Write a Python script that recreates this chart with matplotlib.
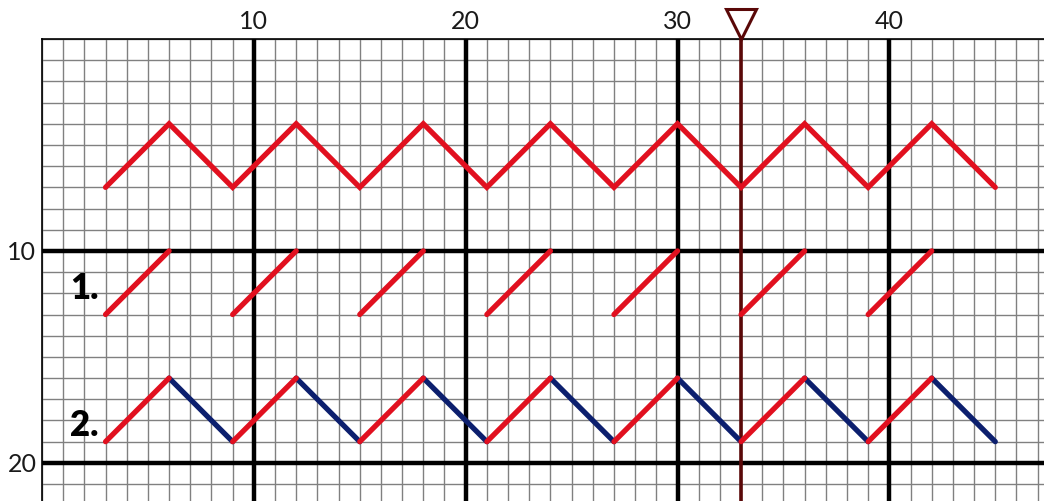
import matplotlib.pyplot as plt

# top zigzag (red)
zig_x = [3, 6, 9, 12, 15, 18, 21, 24, 27, 30, 33, 36, 39, 42, 45]
zig_y = [7, 4, 7, 4, 7, 4, 7, 4, 7, 4, 7, 4, 7, 4, 7]

# row 1: rising strokes only
r1_start_x = [3, 9, 15, 21, 27, 33, 39]
r1_end_x = [6, 12, 18, 24, 30, 36, 42]
r1_low, r1_high = 13, 10

# row 2: rising red, falling navy
r2_up_x = [3, 9, 15, 21, 27, 33, 39]
r2_peak_x = [6, 12, 18, 24, 30, 36, 42]
r2_down_x = [9, 15, 21, 27, 33, 39, 45]
r2_low, r2_high = 19, 16

marker_x = 33
major_ticks = [10, 20, 30, 40]

RED = '#e1101f'
NAVY = '#0c1f6e'
DARKRED = '#5a0808'

plt.rcParams['font.family'] = ['Lato', 'DejaVu Sans']

fig = plt.figure(figsize=(10.44, 5.01), dpi=100)
ax = fig.add_axes([42/1044, 0, 1 - 42/1044, 1 - 39/501])
ax.set_xlim(0, 47.3)
ax.set_ylim(21.8, 0)

# thin grid
for i in range(0, 48):
  ax.axvline(i, color='#808080', lw=1.0, zorder=1)
for j in range(0, 22):
  ax.axhline(j, color='#808080', lw=1.0, zorder=1)
# thick lines
for t in major_ticks:
  ax.axvline(t, color='black', lw=3.2, zorder=2)
for t in [10, 20]:
  ax.axhline(t, color='black', lw=3.2, zorder=2)

ax.axvline(marker_x, color=DARKRED, lw=2.6, zorder=3)
ax.plot([marker_x], [-0.7], marker='v', ms=21, mfc='white', mec=DARKRED,
        mew=2.2, clip_on=False, zorder=6)

lw = 3.8
ax.plot(zig_x, zig_y, color=RED, lw=lw, solid_capstyle='round',
        solid_joinstyle='miter', zorder=4)
for x0, x1 in zip(r1_start_x, r1_end_x):
  ax.plot([x0, x1], [r1_low, r1_high], color=RED, lw=lw,
          solid_capstyle='round', zorder=4)
for x0, x1, x2 in zip(r2_up_x, r2_peak_x, r2_down_x):
  ax.plot([x1, x2], [r2_high, r2_low], color=NAVY, lw=lw,
          solid_capstyle='round', zorder=4)
  ax.plot([x0, x1], [r2_low, r2_high], color=RED, lw=lw,
          solid_capstyle='round', zorder=5)

ax.text(2.0, 11.75, '1.', fontsize=25, fontweight='heavy', ha='center',
        va='center', zorder=6)
ax.text(2.0, 18.25, '2.', fontsize=25, fontweight='heavy', ha='center',
        va='center', zorder=6)

ax.xaxis.tick_top()
ax.set_xticks(major_ticks)
ax.set_yticks([10, 20])
ax.tick_params(length=0, labelsize=18, colors='#1a1a1a', pad=4)
for s in ['right', 'bottom']:
  ax.spines[s].set_visible(False)
for s in ['left', 'top']:
  ax.spines[s].set_linewidth(1.2)

plt.savefig('out.png', dpi=100)
